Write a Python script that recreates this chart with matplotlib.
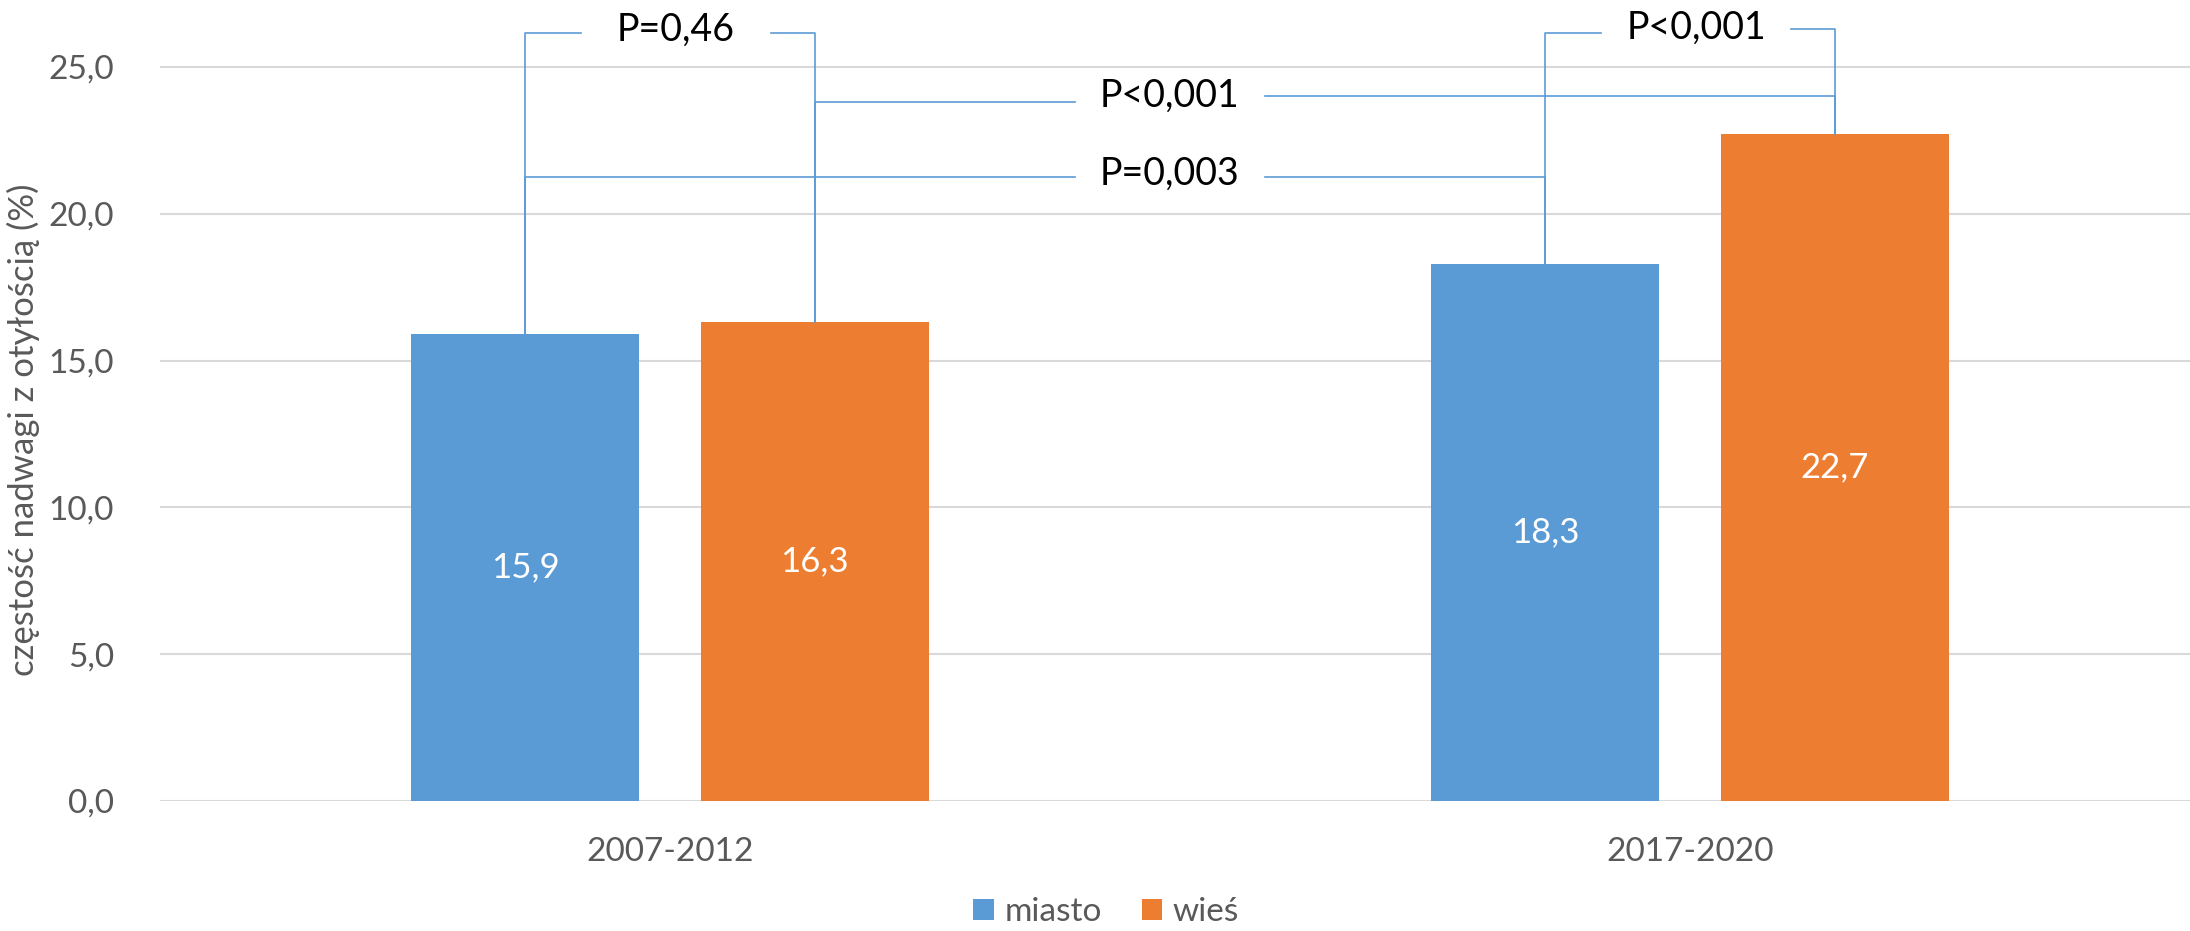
import numpy as np
from matplotlib import pyplot as plt

plt.rcParams["font.family"] = ["Lato", "DejaVu Sans"]

periods = ["2007-2012", "2017-2020"]
groups = ["miasto", "wieś"]
miasto = [15.9, 18.3]
wies = [16.3, 22.7]
colors = ["#5B9BD5", "#ED7D31"]

# comparisons: (left group, left period, right group, right period, label, y left, y right, label x)
tests = [
    (0, 0, 1, 0, "P=0,46", 26.16, 26.16, None),
    (1, 0, 1, 1, "P<0,001", 23.8, 24.0, 0.49),
    (0, 0, 0, 1, "P=0,003", 21.25, 21.25, 0.49),
    (0, 1, 1, 1, "P<0,001", 26.16, 26.3, None),
]

width = 0.2235
gap = 0.06
x = np.arange(len(periods))
offsets = [-(width + gap) / 2, (width + gap) / 2]
values = [miasto, wies]

fig = plt.figure(figsize=(21.9, 9.31), dpi=100)
ax = fig.add_axes([160 / 2190, 130 / 931, 2040 / 2190, 801 / 931])

for k, (name, vals) in enumerate(zip(groups, values)):
    bars = ax.bar(x + offsets[k], vals, width, color=colors[k], label=name, zorder=2)
    for b, v in zip(bars, vals):
        ax.text(b.get_x() + b.get_width() / 2, v / 2, f"{v:.1f}".replace(".", ","),
                ha="center", va="center", color="white", fontsize=25)

line_kw = dict(color="#5B9BD5", lw=1.2, zorder=3, clip_on=False)
half_gap = 0.093
for g1, p1, g2, p2, label, y1, y2, lx in tests:
    x1 = x[p1] + offsets[g1]
    x2 = x[p2] + offsets[g2]
    h1 = values[g1][p1]
    h2 = values[g2][p2]
    if lx is None:
        lx = (x1 + x2) / 2 + 0.006
    ym = (y1 + y2) / 2
    ax.plot([x1, x1, lx - half_gap], [h1, y1, y1], **line_kw)
    ax.plot([lx + half_gap, x2, x2], [y2, y2, h2], **line_kw)
    ax.text(lx, ym + 0.12, label, ha="center", va="center", fontsize=27, color="black")

ax.set_xlim(-0.5, 1.5)
ax.set_ylim(0, 27.28)
ax.set_yticks(np.arange(0, 26, 5))
ax.set_yticklabels([f"{t:.1f}".replace(".", ",") for t in np.arange(0, 26, 5)])
ax.set_xticks(x)
ax.set_xticklabels(periods)
ax.tick_params(axis="both", length=0, labelsize=24, colors="#595959")
ax.tick_params(axis="y", pad=33)
ax.tick_params(axis="x", pad=26)
ax.grid(axis="y", color="#D9D9D9", lw=1.5, zorder=0)
ax.set_axisbelow(True)
for s in ax.spines.values():
    s.set_visible(False)
ax.set_ylabel("częstość nadwagi z otyłością (%)", fontsize=25, color="#595959")
ax.yaxis.set_label_coords(-0.0588, 0.463)

ax.legend(loc="center", bbox_to_anchor=(0.505, 0.02), bbox_transform=fig.transFigure,
          ncol=2, frameon=False, fontsize=24, handlelength=0.62, handleheight=0.62,
          handletextpad=0.3, columnspacing=1.2, labelcolor="#595959")

fig.savefig("out.png", dpi=100)
